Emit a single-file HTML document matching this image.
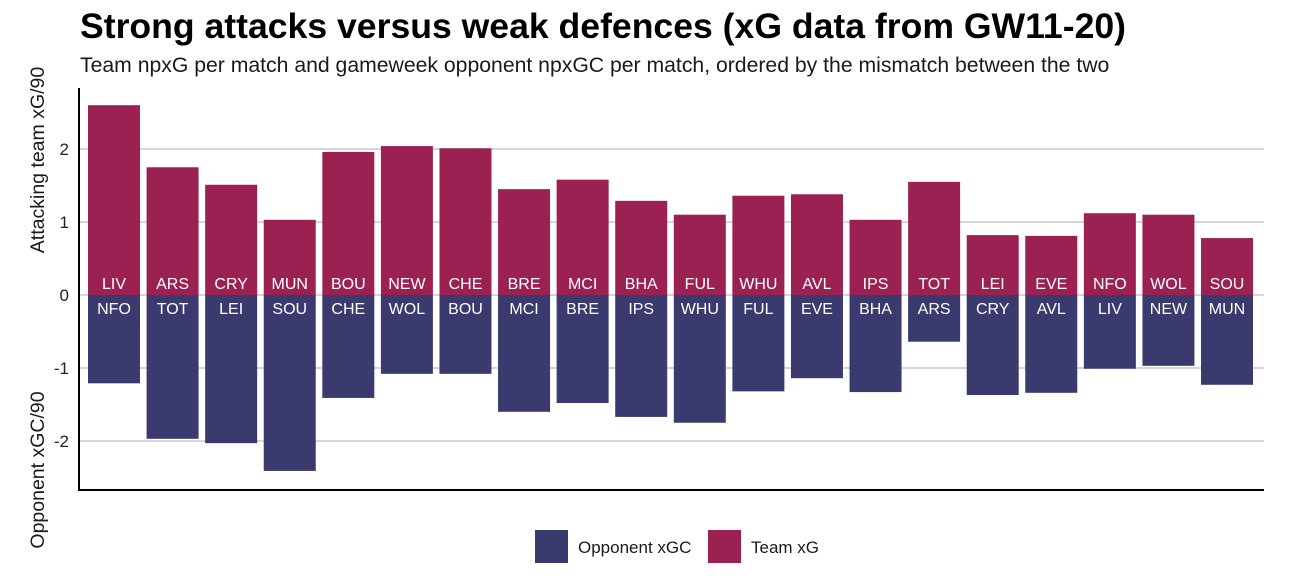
<!DOCTYPE html>
<html><head><meta charset="utf-8"><style>
body{margin:0;background:#fff;font-family:"Liberation Sans",Arial,sans-serif}
svg text{font-family:"Liberation Sans",Arial,sans-serif}
</style></head><body>
<svg id="chart" width="1292" height="574" xmlns="http://www.w3.org/2000/svg">
<text x="80" y="38" font-size="35.6" font-weight="bold" fill="#000">Strong attacks versus weak defences (xG data from GW11-20)</text>
<text x="80" y="72" font-size="21.2" fill="#1a1a1a">Team npxG per match and gameweek opponent npxGC per match, ordered by the mismatch between the two</text>
<text transform="translate(44,160) rotate(-90)" text-anchor="middle" font-size="19.5" fill="#1a1a1a">Attacking team xG/90</text>
<text transform="translate(44,470) rotate(-90)" text-anchor="middle" font-size="19.5" fill="#1a1a1a">Opponent xGC/90</text>
<g id="plot"></g>
<g>
<rect x="535" y="530" width="33" height="33" fill="#3b3a6e"/>
<text x="578" y="553" font-size="17" fill="#1a1a1a">Opponent xGC</text>
<rect x="708" y="530" width="33" height="33" fill="#9b2153"/>
<text x="751" y="553" font-size="17" fill="#1a1a1a">Team xG</text>
</g>
</svg>
<script>
const teams=["LIV","ARS","CRY","MUN","BOU","NEW","CHE","BRE","MCI","BHA","FUL","WHU","AVL","IPS","TOT","LEI","EVE","NFO","WOL","SOU"];
const opponents=["NFO","TOT","LEI","SOU","CHE","WOL","BOU","MCI","BRE","IPS","WHU","FUL","EVE","BHA","ARS","CRY","AVL","LIV","NEW","MUN"];
const teamXG=[2.60,1.75,1.51,1.03,1.96,2.04,2.01,1.45,1.58,1.29,1.10,1.36,1.38,1.03,1.55,0.82,0.81,1.12,1.10,0.78];
const oppXGC=[1.21,1.97,2.03,2.41,1.41,1.08,1.08,1.60,1.48,1.67,1.75,1.32,1.14,1.33,0.64,1.37,1.34,1.01,0.97,1.23];
const yTicks=[-2,-1,0,1,2];
const NS="http://www.w3.org/2000/svg";
const g=document.getElementById('plot');
const L=79,R=1264,T=88,B=490;
const y=v=>295-v*73;
const band=58.58;
const x=i=>114+i*band;
const bw=52;
function mk(t,a){const e=document.createElementNS(NS,t);for(const k in a)e.setAttribute(k,a[k]);g.appendChild(e);return e;}
yTicks.forEach(t=>{
 const l=mk('line',{x1:L,x2:R,y1:y(t),y2:y(t),stroke:'#c8c8c8','stroke-width':1.5});
 
 
 const tx=mk('text',{x:L-10,y:y(t)+6,'text-anchor':'end','font-size':17,fill:'#222'});
 tx.textContent=t;
 
 
});
teams.forEach((tm,i)=>{
 const cx=x(i);
 const r1=mk('rect',{x:cx-bw/2,y:y(teamXG[i]),width:bw,height:y(0)-y(teamXG[i]),fill:'#9b2153'});
 
 
 const r2=mk('rect',{x:cx-bw/2,y:y(0),width:bw,height:y(-oppXGC[i])-y(0),fill:'#3b3a6e'});
 
 
 const t1=mk('text',{x:cx,y:289,'text-anchor':'middle','font-size':16,fill:'#fff'});
 t1.textContent=tm;
 
 
 const t2=mk('text',{x:cx,y:314,'text-anchor':'middle','font-size':16,fill:'#fff'});
 t2.textContent=opponents[i];
 
 
});
const ax=mk('path',{d:`M${L} ${T} V${B} H${R}`,stroke:'#000','stroke-width':2,fill:'none'});


</script>
</body></html>
